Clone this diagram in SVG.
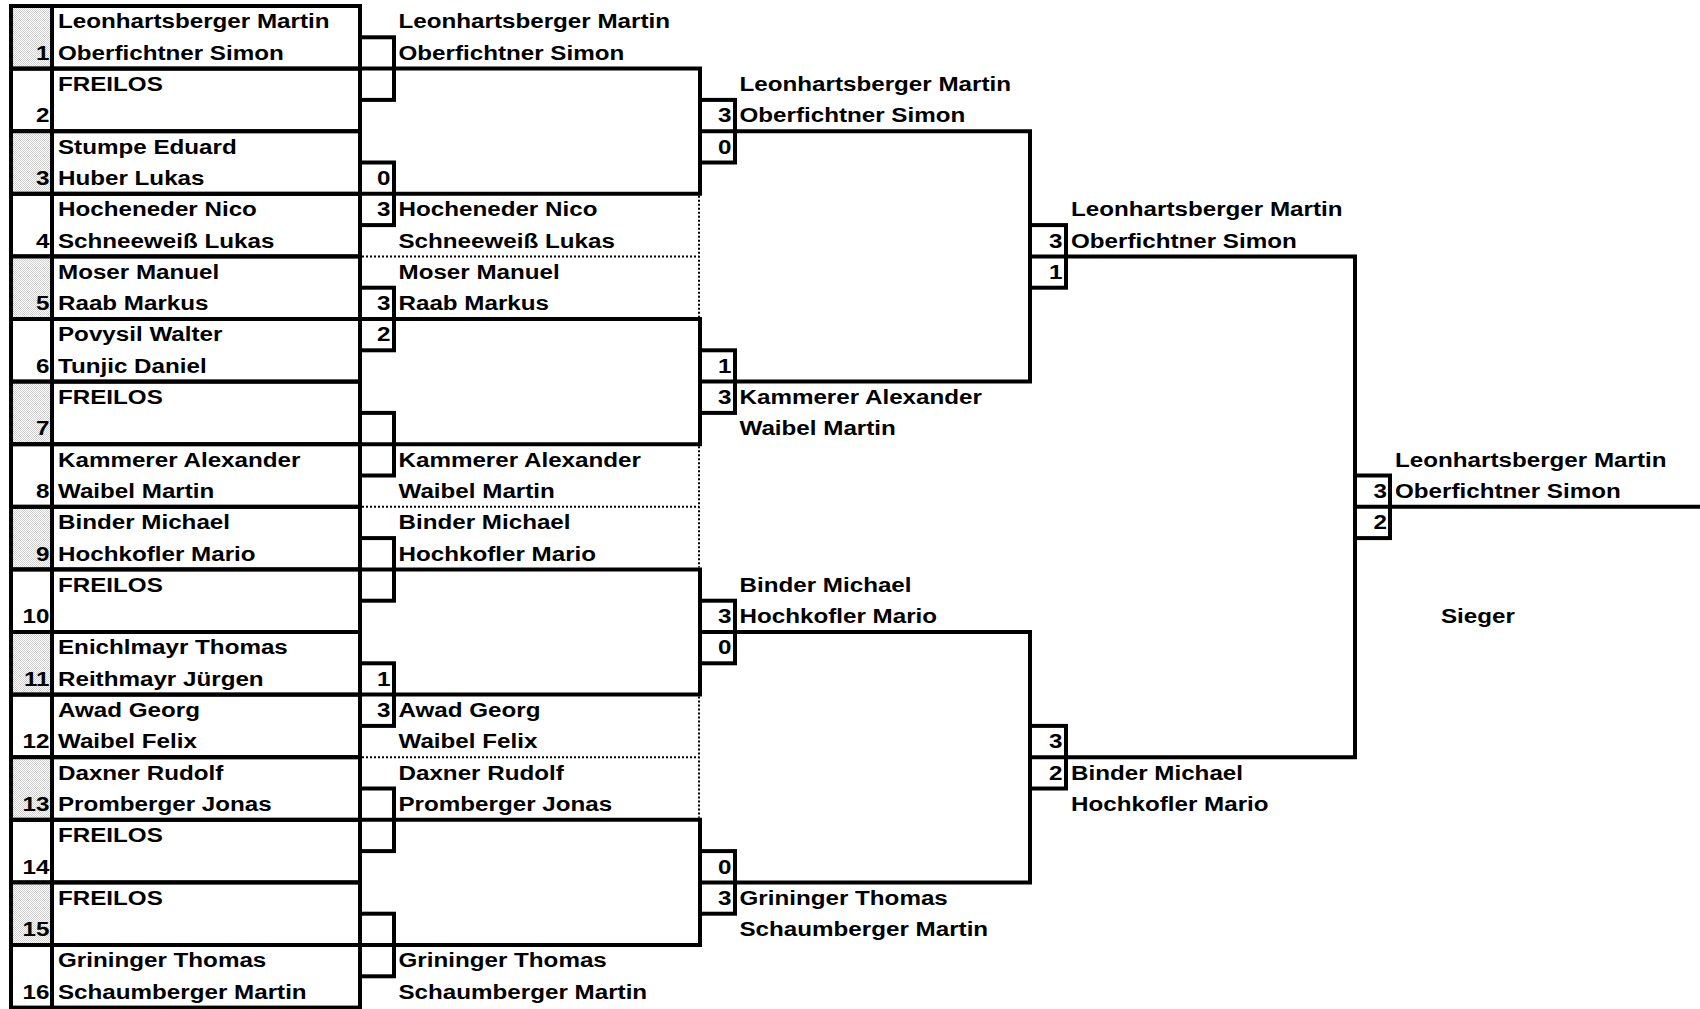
<svg xmlns="http://www.w3.org/2000/svg" width="1700" height="1009" viewBox="0 0 1700 1009">
<style>
.b{fill:none;stroke:#000;stroke-width:4;stroke-linejoin:miter}
.d{fill:none;stroke:#000;stroke-width:2;stroke-dasharray:2 2}
.sd{fill:url(#stip);stroke:none}
text{font-family:"Liberation Sans",Arial,Helvetica,sans-serif;font-weight:bold;font-size:20px;fill:#000}
.r{text-anchor:end}
</style>
<defs>
<pattern id="stip" width="2" height="2" patternUnits="userSpaceOnUse">
<rect width="2" height="2" fill="#ffffff"/>
<rect width="1" height="1" fill="#cfcfcf"/>
<rect x="1" y="1" width="1" height="1" fill="#cfcfcf"/>
</pattern>
</defs>
<rect width="1700" height="1009" fill="#fff"/>

<g id="entries">
<g id="entry-1"><rect class="sd" x="13" y="8" width="37" height="58.6"/><rect class="b" x="11" y="6" width="349" height="62.6"/><line class="b" x1="52" y1="6" x2="52" y2="68.6"/>
<g transform="matrix(1.21 0 0 1 0 1)"><text class="r" x="40.91" y="58.8">1</text><text x="47.93" y="27.5">Leonhartsberger Martin</text><text x="47.93" y="58.8">Oberfichtner Simon</text></g></g>
<g id="entry-2"><rect class="b" x="11" y="68.6" width="349" height="62.6"/><line class="b" x1="52" y1="68.6" x2="52" y2="131.2"/>
<g transform="matrix(1.21 0 0 1 0 1)"><text class="r" x="40.91" y="121.4">2</text><text x="47.93" y="90.1">FREILOS</text></g></g>
<g id="entry-3"><rect class="sd" x="13" y="133.2" width="37" height="58.6"/><rect class="b" x="11" y="131.2" width="349" height="62.6"/><line class="b" x1="52" y1="131.2" x2="52" y2="193.8"/>
<g transform="matrix(1.21 0 0 1 0 1)"><text class="r" x="40.91" y="184">3</text><text x="47.93" y="152.7">Stumpe Eduard</text><text x="47.93" y="184">Huber Lukas</text></g></g>
<g id="entry-4"><rect class="b" x="11" y="193.8" width="349" height="62.6"/><line class="b" x1="52" y1="193.8" x2="52" y2="256.4"/>
<g transform="matrix(1.21 0 0 1 0 1)"><text class="r" x="40.91" y="246.6">4</text><text x="47.93" y="215.3">Hocheneder Nico</text><text x="47.93" y="246.6">Schneeweiß Lukas</text></g></g>
<g id="entry-5"><rect class="sd" x="13" y="258.4" width="37" height="58.6"/><rect class="b" x="11" y="256.4" width="349" height="62.6"/><line class="b" x1="52" y1="256.4" x2="52" y2="319"/>
<g transform="matrix(1.21 0 0 1 0 1)"><text class="r" x="40.91" y="309.2">5</text><text x="47.93" y="277.9">Moser Manuel</text><text x="47.93" y="309.2">Raab Markus</text></g></g>
<g id="entry-6"><rect class="b" x="11" y="319" width="349" height="62.6"/><line class="b" x1="52" y1="319" x2="52" y2="381.6"/>
<g transform="matrix(1.21 0 0 1 0 1)"><text class="r" x="40.91" y="371.8">6</text><text x="47.93" y="340.5">Povysil Walter</text><text x="47.93" y="371.8">Tunjic Daniel</text></g></g>
<g id="entry-7"><rect class="sd" x="13" y="383.6" width="37" height="58.6"/><rect class="b" x="11" y="381.6" width="349" height="62.6"/><line class="b" x1="52" y1="381.6" x2="52" y2="444.2"/>
<g transform="matrix(1.21 0 0 1 0 1)"><text class="r" x="40.91" y="434.4">7</text><text x="47.93" y="403.1">FREILOS</text></g></g>
<g id="entry-8"><rect class="b" x="11" y="444.2" width="349" height="62.6"/><line class="b" x1="52" y1="444.2" x2="52" y2="506.8"/>
<g transform="matrix(1.21 0 0 1 0 1)"><text class="r" x="40.91" y="497">8</text><text x="47.93" y="465.7">Kammerer Alexander</text><text x="47.93" y="497">Waibel Martin</text></g></g>
<g id="entry-9"><rect class="sd" x="13" y="508.8" width="37" height="58.6"/><rect class="b" x="11" y="506.8" width="349" height="62.6"/><line class="b" x1="52" y1="506.8" x2="52" y2="569.4"/>
<g transform="matrix(1.21 0 0 1 0 1)"><text class="r" x="40.91" y="559.6">9</text><text x="47.93" y="528.3">Binder Michael</text><text x="47.93" y="559.6">Hochkofler Mario</text></g></g>
<g id="entry-10"><rect class="b" x="11" y="569.4" width="349" height="62.6"/><line class="b" x1="52" y1="569.4" x2="52" y2="632"/>
<g transform="matrix(1.21 0 0 1 0 1)"><text class="r" x="40.91" y="622.2">10</text><text x="47.93" y="590.9">FREILOS</text></g></g>
<g id="entry-11"><rect class="sd" x="13" y="634" width="37" height="58.6"/><rect class="b" x="11" y="632" width="349" height="62.6"/><line class="b" x1="52" y1="632" x2="52" y2="694.6"/>
<g transform="matrix(1.21 0 0 1 0 1)"><text class="r" x="40.91" y="684.8">11</text><text x="47.93" y="653.5">Enichlmayr Thomas</text><text x="47.93" y="684.8">Reithmayr Jürgen</text></g></g>
<g id="entry-12"><rect class="b" x="11" y="694.6" width="349" height="62.6"/><line class="b" x1="52" y1="694.6" x2="52" y2="757.2"/>
<g transform="matrix(1.21 0 0 1 0 1)"><text class="r" x="40.91" y="747.4">12</text><text x="47.93" y="716.1">Awad Georg</text><text x="47.93" y="747.4">Waibel Felix</text></g></g>
<g id="entry-13"><rect class="sd" x="13" y="759.2" width="37" height="58.6"/><rect class="b" x="11" y="757.2" width="349" height="62.6"/><line class="b" x1="52" y1="757.2" x2="52" y2="819.8"/>
<g transform="matrix(1.21 0 0 1 0 1)"><text class="r" x="40.91" y="810">13</text><text x="47.93" y="778.7">Daxner Rudolf</text><text x="47.93" y="810">Promberger Jonas</text></g></g>
<g id="entry-14"><rect class="b" x="11" y="819.8" width="349" height="62.6"/><line class="b" x1="52" y1="819.8" x2="52" y2="882.4"/>
<g transform="matrix(1.21 0 0 1 0 1)"><text class="r" x="40.91" y="872.6">14</text><text x="47.93" y="841.3">FREILOS</text></g></g>
<g id="entry-15"><rect class="sd" x="13" y="884.4" width="37" height="58.6"/><rect class="b" x="11" y="882.4" width="349" height="62.6"/><line class="b" x1="52" y1="882.4" x2="52" y2="945"/>
<g transform="matrix(1.21 0 0 1 0 1)"><text class="r" x="40.91" y="935.2">15</text><text x="47.93" y="903.9">FREILOS</text></g></g>
<g id="entry-16"><rect class="b" x="11" y="945" width="349" height="62.6"/><line class="b" x1="52" y1="945" x2="52" y2="1007.6"/>
<g transform="matrix(1.21 0 0 1 0 1)"><text class="r" x="40.91" y="997.8">16</text><text x="47.93" y="966.5">Grininger Thomas</text><text x="47.93" y="997.8">Schaumberger Martin</text></g></g>
</g>

<g id="connectors">
<path class="b" d="M360 68.6H700V193.8H360"/>
<path class="b" d="M360 319H700V444.2H360"/>
<path class="b" d="M360 569.4H700V694.6H360"/>
<path class="b" d="M360 819.8H700V945H360"/>
<path class="b" d="M700 131.2H1030V381.6H700"/>
<path class="b" d="M700 632H1030V882.4H700"/>
<path class="b" d="M1030 256.4H1355V757.2H1030"/>
<path class="b" d="M1355 506.8H1700"/>
<path class="d" d="M362 256.4H699M699 195.8V317"/>
<path class="d" d="M362 506.8H699M699 446.2V567.4"/>
<path class="d" d="M362 757.2H699M699 696.6V817.8"/>
</g>

<g id="r1-scores">
<g id="r1-m1"><rect class="b" x="360" y="37.3" width="34" height="62.6"/></g>
<g id="r1-m2"><rect class="b" x="360" y="162.5" width="34" height="62.6"/><g transform="matrix(1.21 0 0 1 0 1)"><text class="r" x="322.73" y="184">0</text><text class="r" x="322.73" y="215.3">3</text></g></g>
<g id="r1-m3"><rect class="b" x="360" y="287.7" width="34" height="62.6"/><g transform="matrix(1.21 0 0 1 0 1)"><text class="r" x="322.73" y="309.2">3</text><text class="r" x="322.73" y="340.5">2</text></g></g>
<g id="r1-m4"><rect class="b" x="360" y="412.9" width="34" height="62.6"/></g>
<g id="r1-m5"><rect class="b" x="360" y="538.1" width="34" height="62.6"/></g>
<g id="r1-m6"><rect class="b" x="360" y="663.3" width="34" height="62.6"/><g transform="matrix(1.21 0 0 1 0 1)"><text class="r" x="322.73" y="684.8">1</text><text class="r" x="322.73" y="716.1">3</text></g></g>
<g id="r1-m7"><rect class="b" x="360" y="788.5" width="34" height="62.6"/></g>
<g id="r1-m8"><rect class="b" x="360" y="913.7" width="34" height="62.6"/></g>
</g>

<g id="r1-winners" transform="matrix(1.21 0 0 1 0 1)">
<g id="r1-w1"><text x="329.34" y="27.5">Leonhartsberger Martin</text><text x="329.34" y="58.8">Oberfichtner Simon</text></g>
<g id="r1-w2"><text x="329.34" y="215.3">Hocheneder Nico</text><text x="329.34" y="246.6">Schneeweiß Lukas</text></g>
<g id="r1-w3"><text x="329.34" y="277.9">Moser Manuel</text><text x="329.34" y="309.2">Raab Markus</text></g>
<g id="r1-w4"><text x="329.34" y="465.7">Kammerer Alexander</text><text x="329.34" y="497">Waibel Martin</text></g>
<g id="r1-w5"><text x="329.34" y="528.3">Binder Michael</text><text x="329.34" y="559.6">Hochkofler Mario</text></g>
<g id="r1-w6"><text x="329.34" y="716.1">Awad Georg</text><text x="329.34" y="747.4">Waibel Felix</text></g>
<g id="r1-w7"><text x="329.34" y="778.7">Daxner Rudolf</text><text x="329.34" y="810">Promberger Jonas</text></g>
<g id="r1-w8"><text x="329.34" y="966.5">Grininger Thomas</text><text x="329.34" y="997.8">Schaumberger Martin</text></g>
</g>

<g id="r2-scores">
<g id="r2-m1"><rect class="b" x="700" y="99.9" width="35" height="62.6"/><g transform="matrix(1.21 0 0 1 0 1)"><text class="r" x="604.55" y="121.4">3</text><text class="r" x="604.55" y="152.7">0</text></g></g>
<g id="r2-m2"><rect class="b" x="700" y="350.3" width="35" height="62.6"/><g transform="matrix(1.21 0 0 1 0 1)"><text class="r" x="604.55" y="371.8">1</text><text class="r" x="604.55" y="403.1">3</text></g></g>
<g id="r2-m3"><rect class="b" x="700" y="600.7" width="35" height="62.6"/><g transform="matrix(1.21 0 0 1 0 1)"><text class="r" x="604.55" y="622.2">3</text><text class="r" x="604.55" y="653.5">0</text></g></g>
<g id="r2-m4"><rect class="b" x="700" y="851.1" width="35" height="62.6"/><g transform="matrix(1.21 0 0 1 0 1)"><text class="r" x="604.55" y="872.6">0</text><text class="r" x="604.55" y="903.9">3</text></g></g>
</g>

<g id="r2-winners" transform="matrix(1.21 0 0 1 0 1)">
<g id="r2-w1"><text x="611.16" y="90.1">Leonhartsberger Martin</text><text x="611.16" y="121.4">Oberfichtner Simon</text></g>
<g id="r2-w2"><text x="611.16" y="403.1">Kammerer Alexander</text><text x="611.16" y="434.4">Waibel Martin</text></g>
<g id="r2-w3"><text x="611.16" y="590.9">Binder Michael</text><text x="611.16" y="622.2">Hochkofler Mario</text></g>
<g id="r2-w4"><text x="611.16" y="903.9">Grininger Thomas</text><text x="611.16" y="935.2">Schaumberger Martin</text></g>
</g>

<g id="r3-scores">
<g id="r3-m1"><rect class="b" x="1030" y="225.1" width="36" height="62.6"/><g transform="matrix(1.21 0 0 1 0 1)"><text class="r" x="878.1" y="246.6">3</text><text class="r" x="878.1" y="277.9">1</text></g></g>
<g id="r3-m2"><rect class="b" x="1030" y="725.9" width="36" height="62.6"/><g transform="matrix(1.21 0 0 1 0 1)"><text class="r" x="878.1" y="747.4">3</text><text class="r" x="878.1" y="778.7">2</text></g></g>
</g>

<g id="r3-winners" transform="matrix(1.21 0 0 1 0 1)">
<g id="r3-w1"><text x="885.12" y="215.3">Leonhartsberger Martin</text><text x="885.12" y="246.6">Oberfichtner Simon</text></g>
<g id="r3-w2"><text x="885.12" y="778.7">Binder Michael</text><text x="885.12" y="810">Hochkofler Mario</text></g>
</g>

<g id="final">
<rect class="b" x="1355" y="475.5" width="35" height="62.6"/>
<g transform="matrix(1.21 0 0 1 0 1)"><text class="r" x="1146.28" y="497">3</text><text class="r" x="1146.28" y="528.3">2</text></g>
</g>

<g id="champion" transform="matrix(1.21 0 0 1 0 1)">
<text x="1152.89" y="465.7">Leonhartsberger Martin</text><text x="1152.89" y="497">Oberfichtner Simon</text>
<text x="1190.91" y="622">Sieger</text>
</g>
</svg>
